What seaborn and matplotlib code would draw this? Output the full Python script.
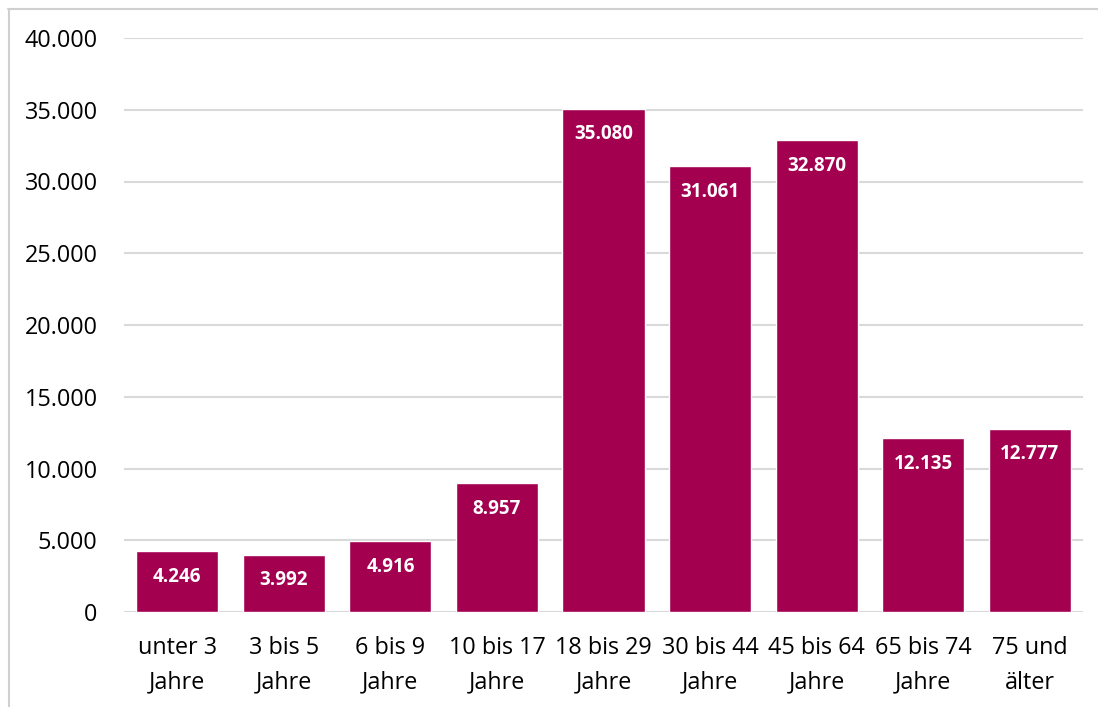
import matplotlib
matplotlib.use("Agg")
import matplotlib.pyplot as plt
import seaborn as sns
import pandas as pd
from matplotlib.lines import Line2D
from matplotlib.ticker import FuncFormatter

categories = ["unter 3\nJahre", "3 bis 5\nJahre", "6 bis 9\nJahre", "10 bis 17\nJahre",
              "18 bis 29\nJahre", "30 bis 44\nJahre", "45 bis 64\nJahre", "65 bis 74\nJahre",
              "75 und\nälter"]
values = [4246, 3992, 4916, 8957, 35080, 31061, 32870, 12135, 12777]
yticks = [0, 5000, 10000, 15000, 20000, 25000, 30000, 35000, 40000]

sns.set_style("white")
plt.rcParams['font.family'] = ['Open Sans', 'DejaVu Sans']

W, H = 1098, 707
fig = plt.figure(figsize=(W / 100, H / 100), dpi=100)
ax = fig.add_axes([124 / W, 1 - 612 / H, (1083 - 124) / W, (612 - 38) / H])

df = pd.DataFrame({"cat": categories, "val": values})
color = "#A3004F"
sns.barplot(data=df, x="cat", y="val", color=color, saturation=1, width=0.77, ax=ax, zorder=3)

def de(v, pos=None):
    return f"{int(round(v)):,}".replace(",", ".")

ax.set_ylim(0, 40000)
ax.set_yticks(yticks)
ax.yaxis.set_major_formatter(FuncFormatter(de))
ax.grid(axis="y", color="#d9d9d9", linewidth=1.5, zorder=0)
ax.set_axisbelow(True)
for s in ax.spines.values():
    s.set_visible(False)
ax.set_xlabel("")
ax.set_ylabel("")
ax.tick_params(axis="y", length=0, pad=19, labelsize=16.8, labelcolor="#000000")
ax.tick_params(axis="x", length=0, pad=17, labelsize=16.8, labelcolor="#000000")
for t in ax.get_xticklabels():
    t.set_linespacing(1.62)

for p, v in zip(ax.patches, values):
    ax.annotate(de(v), (p.get_x() + p.get_width() / 2, p.get_height()),
                xytext=(0, -18.5), textcoords="offset points", ha="center", va="center",
                color="white", fontsize=13.5, fontweight="bold", zorder=4)

bc = "#d0d0d0"
fig.add_artist(Line2D([8 / W, 1], [1 - 8.5 / H, 1 - 8.5 / H], transform=fig.transFigure, color=bc, lw=1.5))
fig.add_artist(Line2D([8.5 / W, 8.5 / W], [0, 1 - 8.5 / H], transform=fig.transFigure, color=bc, lw=1.5))

fig.savefig("out.png", dpi=100)
